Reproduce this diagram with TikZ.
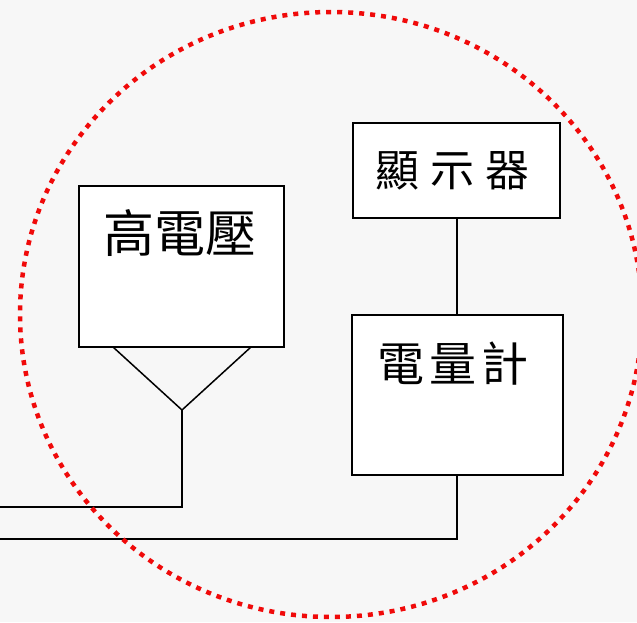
\documentclass[tikz,border=0pt]{standalone}
\usepackage{fontspec}
\newfontfamily\cjk{Noto Sans CJK TC}
\definecolor{bgc}{HTML}{F7F7F7}
\definecolor{dotred}{HTML}{F00A0A}
\begin{document}
\begin{tikzpicture}[x=1pt,y=-1pt,
  box/.style={draw=black,fill=white,line width=1.5pt,inner sep=0pt},
  wire/.style={draw=black,line width=1.5pt},
  lbl/.style={inner sep=0pt,font=\cjk}]
\useasboundingbox (0,0) rectangle (637,622);
\fill[bgc] (0,0) rectangle (637,622);
\clip (0,0) rectangle (637,622);
% boxes
\node[box,minimum width=205pt,minimum height=161pt] (hv) at (181.5,266.5) {};
\node[box,minimum width=207pt,minimum height=95pt] (disp) at (456.5,170.5) {};
\node[box,minimum width=211pt,minimum height=160pt] (meter) at (457.5,395) {};
% labels
\node[lbl,font=\cjk\fontsize{51pt}{51pt}\selectfont] (hvt) at (180,233) {高電壓};
\node[lbl,font=\cjk\fontsize{44pt}{44pt}\selectfont] (dispt) at (452,171) {顯\hspace{11pt}示\hspace{11pt}器};
\node[lbl,font=\cjk\fontsize{47pt}{47pt}\selectfont] (metert) at (453,364) {電\hspace{5pt}量\hspace{5pt}計};
% connectors
\coordinate (vl) at (113,347);
\coordinate (vr) at (251,347);
\coordinate (vt) at (182,410);
\coordinate (hvc) at (182,507);
\coordinate (hve) at (0,507);
\coordinate (mc) at (457,539);
\coordinate (me) at (0,539);
\draw[wire] (vl) -- (vt) -- (vr);
\draw[wire] (vt) -- (hvc) -- (hve);
\draw[wire] (disp.south -| mc) -- (meter.north -| mc);
\draw[wire] (meter.south -| mc) -- (mc) -- (me);
% dotted ellipse
\draw[dotred,line width=4.5pt,dash pattern=on 5pt off 6pt] (331,314.5) ellipse [x radius=311, y radius=302.5];
\end{tikzpicture}
\end{document}
